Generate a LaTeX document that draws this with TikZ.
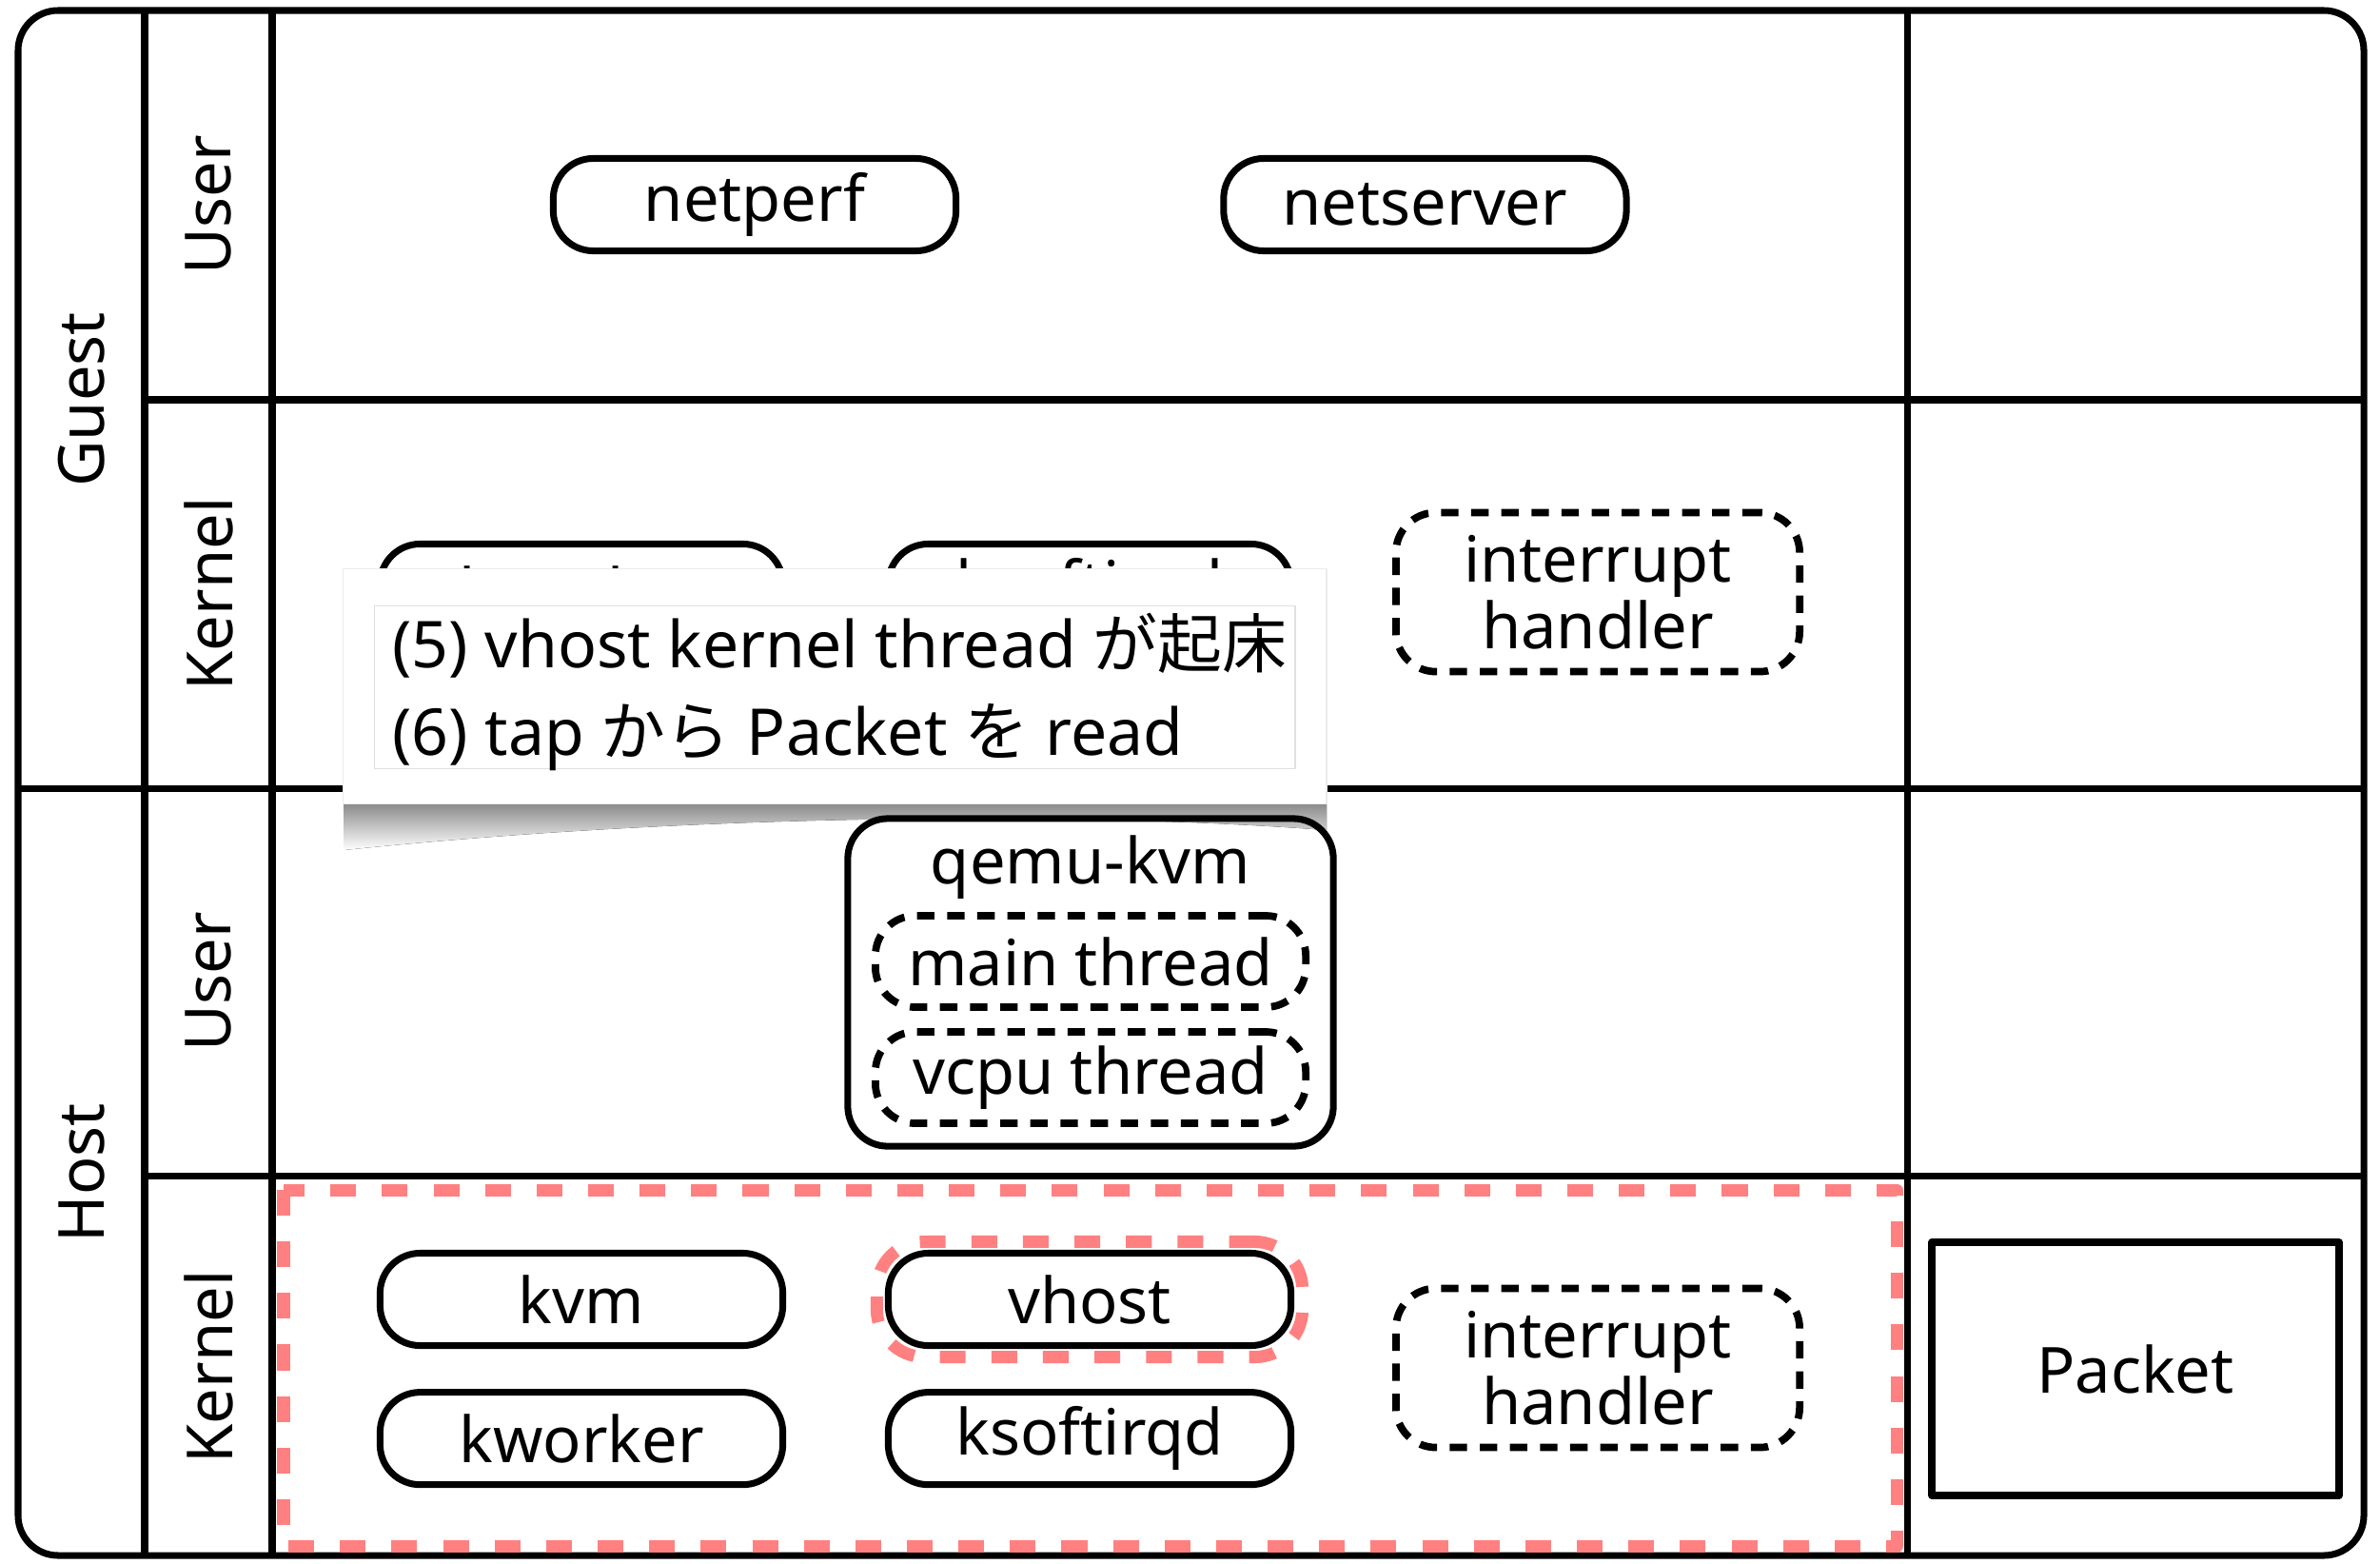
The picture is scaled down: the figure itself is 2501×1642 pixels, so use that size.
\documentclass[tikz,border=0pt]{standalone}
\usepackage{fontspec}
\setmainfont{Noto Sans}
\newfontfamily\jpfont{Noto Sans CJK JP}
\usepackage{tikz}
\usetikzlibrary{positioning, shadings}
\usepackage{xcolor}
\definecolor{hotred}{RGB}{255,128,128}

\begin{document}
\begin{tikzpicture}[x=0.01cm, y=-0.01cm, line join=round,
    font=\fontsize{19}{20}\selectfont,
    wall/.style={line width=2pt},
    proc/.style={draw, line width=2pt, rounded corners=0.42cm, minimum width=4.23cm, minimum height=0.97cm, inner sep=0pt},
    thr/.style={draw, line width=2.2pt, dash pattern=on 5.2pt off 3.8pt, rounded corners=0.42cm, inner sep=0pt, align=center},
    hot/.style={draw=hotred, line width=3.7pt, dash pattern=on 7.7pt off 7.7pt},
    steptext/.style={anchor=west, font=\fontsize{19.3}{22}\selectfont}]
      \useasboundingbox (0,0) rectangle (2501,1642);

      \draw[wall, rounded corners=0.42cm] (19,11) rectangle (2484,1634);
      \foreach \x in {152,286,2004}
        \draw[wall] (\x,11) -- (\x,1634);
      \draw[wall] (152,420) -- (2484,420);
      \draw[wall] (19,828) -- (2484,828);
      \draw[wall] (152,1235) -- (2484,1235);

      \node[rotate=90] (guest) at (86,420) {Guest};
      \node[rotate=90] (host) at (86,1232) {Host};
      \node[rotate=90] (guser) at (219,215) {User};
      \node[rotate=90] (gkernel) at (219,624) {Kernel};
      \node[rotate=90] (huser) at (219,1031) {User};
      \node[rotate=90] (hkernel) at (219,1436) {Kernel};

      \node[proc] (netperf) at (793,215) {netperf};
      \node[proc, right=2.74cm of netperf] (netserver) {netserver};

      \node[proc] (gkworker) at (611,620) {kworker};
      \node[proc] (gsoftirq) at (1145,620) {ksoftirqd};
      \node[thr, minimum width=4.24cm, minimum height=1.67cm] (girq) at (1679,622) {interrupt\\handler};

      \draw[hot] (298,1250) rectangle (1993,1624);
      \node[proc] (kvm) at (611,1365) {kvm};
      \node[proc, below=0.42cm of kvm] (kworker) {kworker};
      \node[proc] (vhost) at (1145,1365) {vhost};
      \node[proc, below=0.42cm of vhost] (ksoftirqd) {ksoftirqd};
      \node[hot, rounded corners=0.5cm, minimum width=4.47cm, minimum height=1.21cm] (vhostmark) at (vhost) {};
      \node[thr, minimum width=4.24cm, minimum height=1.67cm] (hirq) at (1679,1437) {interrupt\\handler};
      \node[draw, line width=2.3pt, minimum width=4.27cm, minimum height=2.66cm] (packet) at (2244,1438) {Packet};

      \fill[top color=black!45, bottom color=white] (361,845) -- (361,893) .. controls (700,858) and (1100,850) .. (1394,872) -- (1394,845) -- cycle;
      \node[proc, minimum width=5.10cm, minimum height=3.44cm] (qemu) at (1146,1032) {};
      \node (qemutitle) at (1146,911) {qemu-kvm};
      \node[thr, minimum width=4.52cm, minimum height=0.96cm] (mainthr) at (1146,1010) {main thread};
      \node[thr, minimum width=4.52cm, minimum height=0.96cm] (vcputhr) at (1146,1132) {vcpu thread};

      \node[fill=white, draw=black!8, minimum width=10.33cm, minimum height=2.47cm, inner sep=0pt] (callout) at (877,721) {};
      \node[draw=black!12, line width=0.4pt, minimum width=9.67cm, minimum height=1.71cm, inner sep=0pt] (notebox) at (877,722) {};
      \node[steptext] (step5) at (400,678) {(5) vhost kernel thread {\jpfont が起床}};
      \node[steptext] (step6) at (400,775) {(6) tap {\jpfont から} Packet {\jpfont を} read};
    \end{tikzpicture}
\end{document}
